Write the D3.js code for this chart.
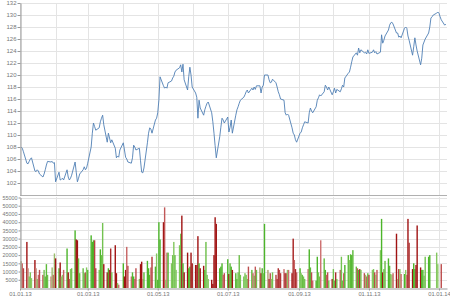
<!DOCTYPE html>
<html>
<head>
<meta charset="utf-8">
<script src="https://cdn.jsdelivr.net/npm/d3@7"></script>
<style>
body{margin:0;background:#fff}
svg{display:block;font-family:"Liberation Sans",Arial,sans-serif}
</style>
</head>
<body>
<svg id="chart"></svg>
<script>
let firstDay = new Date(2013,0,2)
let priceTicks = [102,104,106,108,110,112,114,116,118,120,122,124,126,128,130,132]
let volumeTicks = [5000,10000,15000,20000,25000,30000,35000,40000,45000,50000,55000]
let dateTicks = ['2013-01-01','2013-03-01','2013-05-01','2013-07-01','2013-09-01','2013-11-01','2014-01-01']

// closing price, one value per trading day
let prices = [108.0,107.8,107.2,
105.3,105.2,105.6,106.0,106.2, 104.0,103.9,104.2,104.0,103.5, 103.0,103.5,104.2,105.0,105.6, 105.5,105.6,105.3,105.4,102.2,
103.8,102.5,102.6,102.8,102.5, 104.2,103.0,102.5,102.8,103.3, 105.5,103.8,102.2,102.8,103.5, 104.2,104.7,104.2,104.5,105.3,
108.0,110.3,112.0,111.4,110.8, 111.2,112.2,112.8,113.3,111.7, 108.8,110.3,109.5,108.7,109.2, 107.8,106.2,106.5,106.3,107.5,
108.7,107.5,106.3,106.0,105.5, 105.3,106.2,108.3,108.0,107.5, 107.8,105.7,103.8,103.7,104.5, 108.7,110.3,111.2,111.0,110.3,
112.5,112.8,113.7,115.8,119.7, 118.2,117.8,118.0,117.8,118.7, 119.0,119.5,119.8,120.5,120.8, 121.2,121.7,120.5,121.8,119.2,
117.5,119.7,121.3,120.0,118.0, 117.0,116.3,112.8,115.8,114.5, 113.3,114.2,114.8,115.3,115.5, 113.7,112.2,110.3,108.2,106.2,
109.7,111.3,112.8,112.5,112.0, 113.0,110.5,111.3,112.5,110.3, 113.3,114.2,114.7,115.3,115.8, 116.3,116.7,117.2,117.5,117.0,
117.8,117.5,118.0,117.6,118.2, 118.2,117.0,118.0,118.3,120.0, 120.0,119.2,118.7,118.8,119.3, 118.7,118.0,117.2,116.7,116.0,
115.8,113.7,113.3,113.5,113.3, 111.2,110.3,110.0,109.2,108.8, 110.3,110.5,111.2,111.7,112.2, 112.0,113.7,114.5,114.0,113.7,
114.7,115.8,116.2,116.7,116.5, 117.2,118.3,118.0,117.5,118.0, 116.7,117.2,117.8,117.0,117.6, 117.2,117.7,118.3,118.0,119.5,
120.3,120.5,121.3,122.2,123.0, 123.7,123.3,124.5,123.7,124.2, 123.7,123.8,123.5,124.2,123.6, 123.8,124.2,123.7,123.9,123.5,
123.8,126.7,125.3,125.8,126.5, 127.5,128.3,128.7,128.8,128.5, 127.0,127.0,126.3,126.5,126.2, 127.8,128.0,127.8,126.5,125.8,
123.3,124.7,126.2,125.0,124.0, 121.7,122.8,125.0,125.5,126.0, 127.0,128.0,129.5,129.7,130.0, 130.3,130.5,130.3,129.7,129.2,
128.3,128.5]

let volumes = [16300,15000,12000,
28000,12000,7000,9500,6000, 17000,12000,5500,8000,11000, 8000,11000,7000,14500,8000, 7000,12500,8000,21000,18000,
12000,15500,7000,8000,11000, 24000,9500,5500,11500,12000, 35000,29500,29000,18000,9000, 12000,9000,9500,12500,11000,
32000,28000,29000,29000,12000, 11000,23500,20000,39500,14500, 9500,12000,11000,24000,9500, 26000,9000,3000,2000,0,
15000,7000,11000,25000,13500, 7000,9500,7000,5500,12000, 5500,14500,16000,5500,9500, 16500,12000,8000,12500,19000,
13000,21000,5000,40000,29500, 40000,49000,5000,21500,21500, 15000,20000,28000,20000,11000, 26000,33000,44000,15000,9500,
21500,12000,13000,21500,15000, 14000,14000,31500,15000,12000, 13500,11000,28000,8000,5500, 5000,2500,20000,43000,39000,
12000,13000,15000,8000,9000, 17500,8500,15000,13000,11000, 9000,5500,9500,20000,8000, 7000,9000,8000,5500,13000,
11000,9000,7500,13000,11000, 12500,9000,12000,9000,39000, 11000,5500,9000,5500,9500, 8000,5500,12000,11000,9000,
11500,9000,9000,11000,11000, 9000,30000,17000,11500,9500, 12000,9000,8000,7000,5500, 11500,23500,12500,9500,4500,
4500,19000,9500,7000,29000, 18000,11000,8000,9500,4500, 5500,11500,4500,9500,5500, 11000,19000,4500,9000,14000,
20000,17000,20500,20000,23000, 13000,12000,11000,11500,11000, 9000,8000,7000,9000,8000, 11000,11500,9500,8000,11000,
23000,42000,9500,11500,16500, 18000,13500,8500,8000,9000, 33000,5500,11500,11500,8500, 8500,11000,8000,42000,27500,
11500,15000,11500,14000,38000, 12500,11000,11000,7500,19000, 19000,20000,0,0,0, 21500,14500,0,0,14500,
0,0]

let width = 450
let height = 300
let left = 20
let right = 447

let days = d3.timeDays(firstDay, new Date(2014,1,1)).filter(d => d.getDay() % 6 != 0)
let n = Math.min(prices.length, volumes.length)
let rows = d3.range(n).map(i => ({date: days[i], price: prices[i], volume: volumes[i],
    change: i == 0 ? 0 : prices[i] - prices[i-1]}))

let x = d3.scaleTime().domain([new Date(2013,0,1), new Date(2014,0,8)]).range([left,right])
let yPrice = d3.scaleLinear().domain([100,132]).range([195,3])
let yVol = d3.scaleLinear().domain([0,55000]).range([288,197.5])
let barColor = d3.scaleLinear().domain([-1,-0.15,0.15,1]).range(['#a01313','#cf7474','#8fcb6a','#4cb52a']).clamp(true)

let svg = d3.select('#chart').attr('width',width).attr('height',height)

let months = d3.timeMonth.range(new Date(2013,0,1), new Date(2014,0,8))

// grid
let grid = svg.append('g').attr('stroke','#e4e4e4').attr('stroke-width',1)
grid.selectAll('.hp').data(priceTicks).enter().append('line')
    .attr('x1',left).attr('x2',right)
    .attr('y1',d => Math.round(yPrice(d))+0.5).attr('y2',d => Math.round(yPrice(d))+0.5)
grid.selectAll('.hv').data(volumeTicks).enter().append('line')
    .attr('x1',left).attr('x2',right)
    .attr('y1',d => Math.round(yVol(d))+0.5).attr('y2',d => Math.round(yVol(d))+0.5)
grid.selectAll('.vp').data(months).enter().append('line')
    .attr('x1',d => Math.round(x(d))+0.5).attr('x2',d => Math.round(x(d))+0.5)
    .attr('y1',3).attr('y2',195)
grid.selectAll('.vv').data(months).enter().append('line')
    .attr('x1',d => Math.round(x(d))+0.5).attr('x2',d => Math.round(x(d))+0.5)
    .attr('y1',197).attr('y2',288)

// volume bars
svg.append('g').selectAll('rect').data(rows).enter().append('rect')
    .attr('x',d => x(d.date) - 0.7)
    .attr('width',1.4)
    .attr('y',d => yVol(d.volume))
    .attr('height',d => yVol(0) - yVol(d.volume))
    .attr('fill',d => barColor(d.change))

// price line
let line = d3.line().x(d => x(d.date)).y(d => yPrice(d.price))
svg.append('path').datum(rows)
    .attr('d',line)
    .attr('fill','none')
    .attr('stroke','#4f7fb4')
    .attr('stroke-width',0.9)

// panel separator
svg.append('line').attr('x1',left).attr('x2',right).attr('y1',195.5).attr('y2',195.5)
    .attr('stroke','#b0b0b0')

let styleAxis = size => g => {
    g.selectAll('path').attr('stroke','#999')
    g.selectAll('line').attr('stroke','#999')
    g.selectAll('text').attr('fill','#777').style('font-size',size)
}

svg.append('g').attr('transform','translate('+(left+0.5)+',0)')
    .call(d3.axisLeft(yPrice).tickValues(priceTicks).tickSize(3).tickSizeOuter(0).tickPadding(1))
    .call(styleAxis('6px'))

svg.append('g').attr('transform','translate('+(left+0.5)+',0)')
    .call(d3.axisLeft(yVol).tickValues(volumeTicks).tickFormat(d3.format('d'))
        .tickSize(2).tickSizeOuter(0).tickPadding(1))
    .call(styleAxis('5.4px'))

svg.append('g').attr('transform','translate(0,288.5)')
    .call(d3.axisBottom(x).tickValues(dateTicks.map(d => d3.timeParse('%Y-%m-%d')(d)))
        .tickFormat(d3.timeFormat('%d.%m.%y')).tickSize(2).tickSizeOuter(0).tickPadding(1))
    .call(styleAxis('5.8px'))
</script>
</body>
</html>
